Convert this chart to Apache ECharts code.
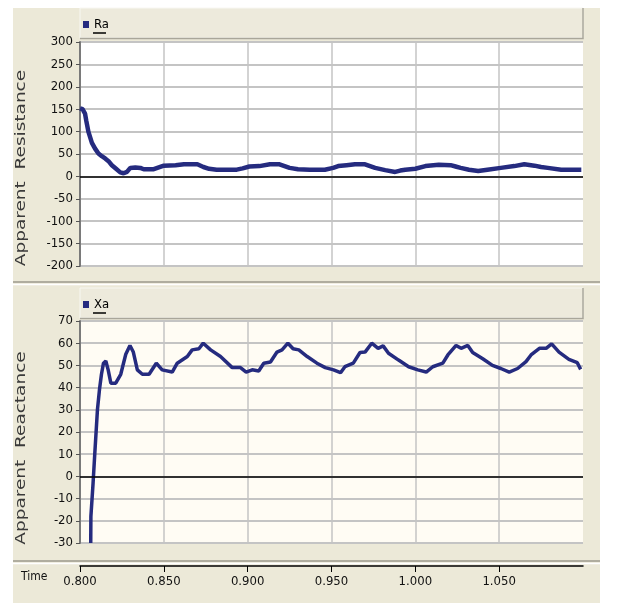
<!DOCTYPE html>
<html>
<head>
<meta charset="utf-8">
<script src="https://cdn.jsdelivr.net/npm/echarts@6/dist/echarts.min.js"></script>
<style>
  html, body { margin: 0; padding: 0; background: #fff; }
  #main { width: 621px; height: 603px; }
</style>
</head>
<body>
<div id="main"></div>
<script>
// time (s) vs apparent resistance
var raTime = [0.800, 0.8015, 0.803, 0.8037, 0.805, 0.8071, 0.809, 0.811, 0.813, 0.815, 0.817, 0.819, 0.8215, 0.824, 0.826, 0.828, 0.830, 0.833, 0.836, 0.838, 0.844, 0.847, 0.850, 0.857, 0.862, 0.870, 0.8736, 0.877, 0.8815, 0.8935, 0.897, 0.901, 0.907, 0.9133, 0.919, 0.922, 0.925, 0.930, 0.937, 0.946, 0.951, 0.954, 0.959, 0.964, 0.970, 0.973, 0.976, 0.982, 0.988, 0.991, 0.994, 1.000, 1.006, 1.014, 1.021, 1.024, 1.027, 1.032, 1.0375, 1.043, 1.051, 1.059, 1.065, 1.071, 1.075, 1.079, 1.087, 1.099]
var raValue = [152, 150, 140, 125, 100, 75, 62, 51, 45, 40, 34, 25, 17, 9, 7, 10, 19, 20, 19, 16, 16, 20, 24, 25, 27, 27, 21, 17, 15, 15, 18, 22, 23, 27, 27, 23, 19, 16, 15, 15, 19, 23, 25, 27, 27, 23, 19, 14, 10, 13, 15, 17, 23, 26, 25, 22, 19, 15, 12, 15, 19, 23, 27, 24, 21, 19, 15, 15]

// time (s) vs apparent reactance
var xaTime = [0.8064, 0.8065, 0.8076, 0.8078, 0.8084, 0.8088, 0.8096, 0.8104, 0.8116, 0.8128, 0.814, 0.8154, 0.8168, 0.8184, 0.8213, 0.8243, 0.8273, 0.8298, 0.8318, 0.8342, 0.8372, 0.8412, 0.8455, 0.849, 0.855, 0.858, 0.864, 0.8669, 0.8709, 0.8735, 0.8779, 0.8838, 0.8908, 0.8957, 0.8991, 0.9027, 0.9066, 0.9096, 0.9136, 0.9175, 0.9205, 0.924, 0.9271, 0.9305, 0.9355, 0.9413, 0.9463, 0.9512, 0.9554, 0.958, 0.963, 0.967, 0.970, 0.974, 0.9778, 0.9808, 0.984, 0.990, 0.996, 1.0015, 1.0065, 1.0104, 1.0164, 1.0194, 1.0243, 1.0273, 1.0313, 1.0342, 1.0402, 1.046, 1.051, 1.056, 1.061, 1.066, 1.069, 1.074, 1.078, 1.0813, 1.0857, 1.0916, 1.0966, 1.0986]
var xaValue = [-30, -18, -18, -3, -3, 10, 10, 30, 39, 46, 51, 52, 48, 42, 42, 46, 55, 59, 56, 48, 46, 46, 51, 48, 47, 51, 54, 57, 57.5, 60, 57, 54, 49, 49, 47, 48, 47.5, 51, 51.5, 56, 57, 60, 57.5, 57, 54, 51, 49, 48, 46.7, 49.4, 51, 55.8, 56, 60, 57.7, 58.8, 55.5, 52.4, 49.4, 48, 47, 49.4, 51, 54.7, 59, 57.7, 59, 55.8, 53, 50, 48.6, 47, 48.6, 51.7, 54.7, 57.7, 57.7, 59.7, 56, 52.7, 51.2, 48.2]

// time axis ticks (labelled), axis ranges [min, max, step]
var timeTicks = [0.80, 0.85, 0.90, 0.95, 1.00, 1.05]
var timeAxis = [0.8, 1.1, 0.05]
var raAxis = [-200, 300, 50]
var xaAxis = [-30, 70, 10]

var narrow = '"Liberation Sans Narrow", "DejaVu Sans Condensed", sans-serif'
var lineColor = '#252B7F'
var gridColor = '#C4C4C4'

function pairs (t, v) {
  return t.map(function (x, i) { return [x, v[i]] })
}

function zeroLine () {
  return {
    silent: true,
    symbol: 'none',
    animation: false,
    label: {show: false},
    lineStyle: {color: '#000', width: 1.5, type: 'solid'},
    data: [{yAxis: 0}]
  }
}

function yAxisOf (range, idx) {
  return {
    type: 'value',
    gridIndex: idx,
    min: range[0],
    max: range[1],
    interval: range[2],
    axisLine: {show: true, lineStyle: {color: '#7A7A7A', width: 2}},
    axisTick: {show: true, length: 4, lineStyle: {color: '#555'}},
    axisLabel: {margin: 7, color: '#111', fontSize: 13, fontFamily: narrow},
    splitLine: {show: true, lineStyle: {color: gridColor, width: 2}}
  }
}

var myChart = echarts.init(document.getElementById('main'))

var option = {
  animation: false,
  backgroundColor: '#fff',
  graphic: [
    // panel background
    {type: 'rect', z: -5, shape: {x: 13, y: 8, width: 587, height: 595}, style: {fill: '#ECE9D8'}},
    // separators between panels
    {type: 'line', z: -4, shape: {x1: 13, y1: 282, x2: 600, y2: 282}, style: {stroke: '#B0AD9F', lineWidth: 2}},
    {type: 'line', z: -4, shape: {x1: 13, y1: 284.5, x2: 600, y2: 284.5}, style: {stroke: '#fff', lineWidth: 1.5}},
    {type: 'line', z: -4, shape: {x1: 13, y1: 561, x2: 600, y2: 561}, style: {stroke: '#B0AD9F', lineWidth: 2}},
    {type: 'line', z: -4, shape: {x1: 13, y1: 563.5, x2: 600, y2: 563.5}, style: {stroke: '#fff', lineWidth: 1.5}},
    // legend strips
    {type: 'rect', z: -3, shape: {x: 80, y: 8, width: 503, height: 30}, style: {fill: '#EDEADC', stroke: '#F8F7F2', lineWidth: 1}},
    {type: 'polyline', z: -3, shape: {points: [[583, 8], [583, 38.5], [80, 38.5]]}, style: {stroke: '#A9A69A', lineWidth: 1.5, fill: null}},
    {type: 'rect', z: -3, shape: {x: 80, y: 288, width: 503, height: 30}, style: {fill: '#EDEADC', stroke: '#F8F7F2', lineWidth: 1}},
    {type: 'polyline', z: -3, shape: {points: [[583, 288], [583, 318.5], [80, 318.5]]}, style: {stroke: '#A9A69A', lineWidth: 1.5, fill: null}},
    // legend underlines
    {type: 'line', z: 10, shape: {x1: 93, y1: 33, x2: 106, y2: 33}, style: {stroke: '#000', lineWidth: 1.5}},
    {type: 'line', z: 10, shape: {x1: 93, y1: 313, x2: 106, y2: 313}, style: {stroke: '#000', lineWidth: 1.5}},
    // y axis names
    {type: 'text', z: 10, x: 21, y: 168, rotation: Math.PI / 2, scaleX: 1.32,
      style: {text: 'Apparent  Resistance', fill: '#3A3A3A', font: '14px "DejaVu Sans", sans-serif', align: 'center', verticalAlign: 'middle'}},
    {type: 'text', z: 10, x: 21, y: 448, rotation: Math.PI / 2, scaleX: 1.32,
      style: {text: 'Apparent  Reactance', fill: '#3A3A3A', font: '14px "DejaVu Sans", sans-serif', align: 'center', verticalAlign: 'middle'}},
    // time caption
    {type: 'text', z: 10, x: 21, y: 571,
      style: {text: 'Time', fill: '#111', font: '12px ' + narrow}}
  ],
  legend: [{
    data: ['Ra'], left: 83, top: 18, padding: 0, itemWidth: 6, itemHeight: 7, icon: 'rect',
    textStyle: {fontSize: 13, fontFamily: narrow, color: '#000'}
  }, {
    data: ['Xa'], left: 83, top: 298, padding: 0, itemWidth: 6, itemHeight: 7, icon: 'rect',
    textStyle: {fontSize: 13, fontFamily: narrow, color: '#000'}
  }],
  grid: [
    {left: 80, top: 42, width: 503, height: 224, show: true, backgroundColor: '#FFFFFF', borderWidth: 0},
    {left: 80, top: 321, width: 503, height: 222, show: true, backgroundColor: '#FFFCF4', borderWidth: 0}
  ],
  xAxis: [{
    type: 'value', gridIndex: 0,
    min: timeAxis[0], max: timeAxis[1], interval: timeAxis[2],
    axisLine: {show: false},
    axisTick: {show: false, customValues: timeTicks},
    axisLabel: {show: false, customValues: timeTicks},
    splitLine: {show: true, showMaxLine: true, lineStyle: {color: gridColor, width: 1.5}}
  }, {
    type: 'value', gridIndex: 1,
    min: timeAxis[0], max: timeAxis[1], interval: timeAxis[2],
    offset: 23,
    axisLine: {show: true, onZero: false, lineStyle: {color: '#000', width: 1.5}},
    axisTick: {show: true, length: 6, lineStyle: {color: '#000'}, customValues: timeTicks},
    axisLabel: {
      margin: 9, color: '#111', fontSize: 13, fontFamily: narrow,
      customValues: timeTicks,
      formatter: function (v) { return v.toFixed(3) }
    },
    splitLine: {show: true, showMaxLine: true, lineStyle: {color: gridColor, width: 1.5}}
  }],
  yAxis: [yAxisOf(raAxis, 0), yAxisOf(xaAxis, 1)],
  series: [{
    name: 'Ra', type: 'line', xAxisIndex: 0, yAxisIndex: 0,
    showSymbol: false, color: lineColor,
    lineStyle: {width: 4.5, color: lineColor},
    data: pairs(raTime, raValue),
    markLine: zeroLine()
  }, {
    name: 'Xa', type: 'line', xAxisIndex: 1, yAxisIndex: 1,
    showSymbol: false, color: lineColor,
    lineStyle: {width: 3.5, color: lineColor},
    data: pairs(xaTime, xaValue),
    markLine: zeroLine()
  }]
}
myChart.setOption(option)
</script>
</body>
</html>
